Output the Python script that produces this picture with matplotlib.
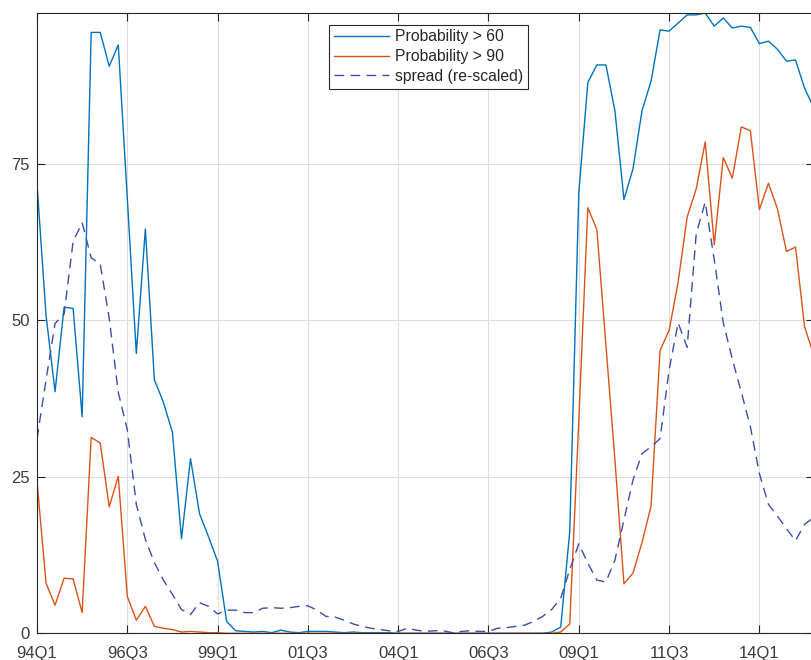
import matplotlib
matplotlib.use("Agg")
import matplotlib.pyplot as plt
import numpy as np

plt.rcParams['font.family'] = ['Liberation Sans', 'DejaVu Sans']

# Quarterly data, 94Q1 onwards
tick_labels = ['94Q1', '96Q3', '99Q1', '01Q3', '04Q1', '06Q3', '09Q1', '11Q3', '14Q1']

prob60 = [71.8, 50.8, 38.6, 52.1, 51.9, 34.6, 96.0, 96.0, 90.6, 94.0,
          69.5, 44.7, 64.6, 40.5, 36.9, 32.1, 15.1, 27.9, 19.1, 15.4,
          11.5, 1.9, 0.4, 0.3, 0.2, 0.3, 0.1, 0.5, 0.2, 0.1,
          0.3, 0.3, 0.3, 0.2, 0.1, 0.2, 0.1, 0.1, 0.1, 0.1,
          0.0, 0.0, 0.0, 0.0, 0.0, 0.0, 0.0, 0.0, 0.0, 0.0,
          0.0, 0.0, 0.0, 0.0, 0.0, 0.0, 0.0, 0.2, 1.0, 16.3,
          70.4, 88.0, 90.8, 90.8, 83.5, 69.3, 74.2, 83.5, 88.2, 96.4,
          96.2, 97.5, 98.8, 98.8, 99.1, 97.0, 98.3, 96.7, 97.0, 96.8,
          94.2, 94.6, 93.3, 91.4, 91.6, 87.1, 84.0]

prob90 = [24.3, 8.0, 4.5, 8.8, 8.7, 3.3, 31.3, 30.4, 20.2, 25.1,
          5.9, 2.1, 4.3, 1.1, 0.8, 0.6, 0.2, 0.3, 0.2, 0.1,
          0.1, 0.0, 0.0, 0.0, 0.0, 0.0, 0.0, 0.0, 0.0, 0.0,
          0.0, 0.0, 0.0, 0.0, 0.0, 0.0, 0.0, 0.0, 0.0, 0.0,
          0.0, 0.0, 0.0, 0.0, 0.0, 0.0, 0.0, 0.0, 0.0, 0.0,
          0.0, 0.0, 0.0, 0.0, 0.0, 0.0, 0.0, 0.0, 0.2, 1.5,
          34.0, 68.0, 64.5, 46.1, 27.7, 7.9, 9.6, 14.5, 20.3, 45.2,
          48.4, 56.1, 66.5, 71.0, 78.5, 62.1, 76.0, 72.7, 80.9, 80.3,
          67.7, 71.9, 67.8, 61.0, 61.7, 49.0, 44.5]

spread = [31.1, 40.5, 49.5, 51.0, 62.6, 65.6, 60.0, 59.0, 50.3, 38.5,
          32.5, 20.6, 15.0, 11.3, 8.5, 6.2, 3.8, 3.0, 4.9, 4.3,
          3.1, 3.7, 3.7, 3.3, 3.3, 4.0, 4.1, 4.0, 4.1, 4.3,
          4.4, 3.7, 2.7, 2.6, 2.1, 1.5, 1.1, 0.8, 0.6, 0.4,
          0.3, 0.8, 0.5, 0.3, 0.4, 0.4, 0.1, 0.3, 0.4, 0.3,
          0.3, 0.8, 0.9, 1.1, 1.3, 1.9, 2.7, 3.8, 5.6, 10.2,
          14.3, 11.2, 8.5, 8.2, 11.7, 18.1, 24.5, 28.7, 29.8, 31.1,
          42.1, 49.6, 45.7, 63.8, 68.9, 59.7, 49.6, 43.8, 38.5, 33.0,
          25.5, 20.6, 18.7, 16.7, 14.8, 17.4, 18.5]

x = np.arange(len(prob60))

W, H = 812, 660
fig = plt.figure(figsize=(W / 100, H / 100), dpi=100)
left_px, right_px, top_px, bottom_px = 37, 37 + 86 * 9.03, 13, 633.3
ax = fig.add_axes([left_px / W, (H - bottom_px) / H,
                   (right_px - left_px) / W, (bottom_px - top_px) / H])

ax.plot(x, prob60, color='#0072BD', lw=1.0, label='Probability > 60')
ax.plot(x, prob90, color='#D95319', lw=1.0, label='Probability > 90')
ax.plot(x, spread, color='#3A4FA8', lw=1.0, ls=(0, (7, 4.5)), label='spread (re-scaled)')

ax.set_xlim(0, len(x) - 1)
ax.set_ylim(0, 99.1)
ax.set_xticks(np.arange(0, len(x), 10))
ax.set_xticklabels(tick_labels)
ax.set_yticks([0, 25, 50, 75])

ax.grid(True, color='#dedede', lw=0.8)
ax.set_axisbelow(True)
ax.tick_params(direction='in', length=6, width=0.8, colors='#262626',
               labelcolor='#3c3c3c', labelsize=12, top=True, right=True)
ax.tick_params(axis='x', pad=9)
ax.tick_params(axis='y', pad=5)
for s in ax.spines.values():
    s.set_color('#262626')
    s.set_linewidth(0.8)

leg = ax.legend(loc='upper left', bbox_to_anchor=(0.376, 0.981), fontsize=11.3,
                frameon=True, fancybox=False, framealpha=1, edgecolor='#262626',
                handlelength=3.5, labelspacing=0.3, borderpad=0.3,
                handletextpad=0.4, borderaxespad=0)
leg.get_frame().set_linewidth(0.8)
for t in leg.get_texts():
    t.set_color('#262626')

fig.savefig('out.png', dpi=100)
